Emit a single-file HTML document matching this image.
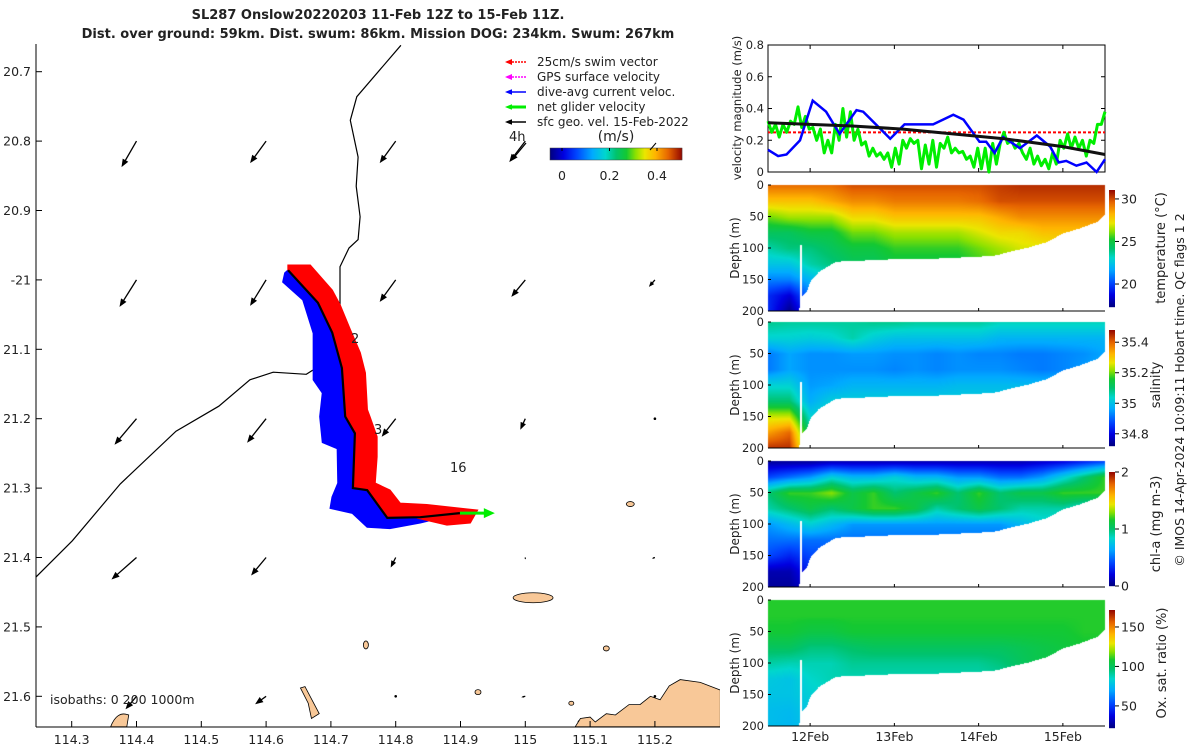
<!DOCTYPE html>
<html><head><meta charset="utf-8">
<style>
html,body{margin:0;padding:0;background:#fff;}
#wrap{position:relative;width:1200px;height:750px;overflow:hidden;font-family:"DejaVu Sans","Liberation Sans",sans-serif;}
canvas,svg{position:absolute;left:0;top:0;}
text{font-family:"DejaVu Sans","Liberation Sans",sans-serif;fill:#222;}
</style></head>
<body>
<div id="wrap">
<canvas id="cv" width="1200" height="750"></canvas>
<svg id="sv" width="1200" height="750" xmlns="http://www.w3.org/2000/svg">
  <text x="378" y="19" text-anchor="middle" font-size="13" font-weight="bold">SL287 Onslow20220203 11-Feb 12Z to 15-Feb 11Z.</text>
  <text x="378" y="38" text-anchor="middle" font-size="13" font-weight="bold">Dist. over ground: 59km. Dist. swum: 86km. Mission DOG: 234km. Swum: 267km</text>
  <g id="map"></g>
  <g id="right"></g>
</svg>
</div>
<script>
// ---------- DATA: velocity panel ----------
const blueT=[11.5,11.62,11.72,11.88,12.03,12.19,12.35,12.55,12.63,12.95,13.12,13.46,13.7,13.82,14.01,14.09,14.19,14.29,14.49,14.69,14.85,14.95,15.04,15.16,15.28,15.4,15.5];
const blueV=[0.14,0.10,0.11,0.20,0.45,0.38,0.24,0.39,0.38,0.21,0.30,0.30,0.36,0.33,0.19,0.19,0.12,0.22,0.15,0.23,0.16,0.06,0.07,0.04,0.06,0.0,0.08];
const greenV=[0.32,0.25,0.3,0.22,0.3,0.25,0.32,0.3,0.41,0.28,0.35,0.27,0.28,0.2,0.27,0.12,0.2,0.12,0.3,0.2,0.4,0.22,0.38,0.2,0.27,0.17,0.19,0.1,0.15,0.1,0.12,0.08,0.12,0.03,0.15,0.05,0.2,0.15,0.21,0.18,0.2,0.02,0.17,0.05,0.2,0.03,0.18,0.15,0.22,0.12,0.15,0.12,0.13,0.08,0.1,0.03,0.15,0.02,0.15,0,0.18,0.05,0.18,0.25,0.18,0.2,0.15,0.18,0.12,0.08,0.15,0.05,0.1,0.04,0.08,0.02,0.12,0.05,0.2,0.15,0.24,0.15,0.22,0.15,0.2,0.1,0.2,0.18,0.3,0.3,0.38];
const blackT=[11.5,12.5,13.1,14.3,15.0,15.5];
const blackV=[0.31,0.29,0.27,0.21,0.16,0.11];
const swimV=0.25;
const velTicks=[0,0.2,0.4,0.6,0.8];
const dateTicks=[12,13,14,15];
const dateLabels=["12Feb","13Feb","14Feb","15Feb"];
const depthTicks=[0,50,100,150,200];
// ---------- DATA: sections (columns at 11.5..15.5 step 0.25; rows depth 0..200 step 25) ----------
const tempGrid=[
[29.5,29.5,29.5,29.5,30,30,30,30,30,30,30,30.3,30.5,30.5,30.5,30.5,30.5],
[28,28,28,28.5,29,29,29.3,29.3,29.3,29.3,29.5,30,30,30,30,30,30],
[26,26.5,26.5,26.5,27.5,27.5,28,28,28,28,28,28.5,29,29,29,29,29],
[24.5,24.5,25,25,26,26,26.5,26.5,26.5,26.5,27,27.5,27.5,28,28,28,28],
[23.5,24,24,24.5,25,25,25.5,25.5,25.5,25.5,26,26.5,27,27,27.5,27.5,27.5],
[22.5,22.5,23.5,24,24.5,24.5,25,25,25,25,25.5,26,26.5,26.5,27,27,27],
[21,21,22,23,24,24,24.5,24.5,24.5,24.5,25,25.5,26,26,26.5,26.5,26.5],
[19.5,18.5,21,22,23,23,24,24,24,24,24.5,25,25.5,25.5,26,26,26],
[19.5,17.5,20,21,22,22,23,23,23,23,24,24.5,25,25,25.5,25.5,25.5]];
const salGrid=[
[35.08,35.07,35.07,35.07,35.07,35.08,35.08,35.07,35.07,35.07,35.07,35.05,35.05,35.05,35.05,35.05,35.05],
[35.03,35.03,35.02,35.03,35.06,35.02,35.0,35.0,35.0,35.0,35.0,34.98,34.98,34.98,34.98,34.98,34.98],
[34.92,34.96,34.94,34.94,34.95,34.95,34.94,34.94,34.93,34.94,34.93,34.93,34.92,34.92,34.93,34.94,34.96],
[34.92,34.96,34.94,34.94,34.94,34.94,34.93,34.94,34.93,34.94,34.94,34.94,34.93,34.92,34.93,34.95,34.97],
[35.03,35.03,34.95,34.96,34.98,34.98,34.98,34.98,34.98,34.99,34.99,34.99,34.99,34.99,34.99,34.99,34.99],
[35.1,35.1,34.97,35.02,35.02,35.02,35.02,35.02,35.02,35.02,35.02,35.02,35.02,35.02,35.02,35.02,35.02],
[35.25,35.25,35.03,35.05,35.05,35.05,35.05,35.05,35.05,35.05,35.05,35.05,35.05,35.05,35.05,35.05,35.05],
[35.35,35.4,35.08,35.08,35.08,35.08,35.08,35.08,35.08,35.08,35.08,35.08,35.08,35.08,35.08,35.08,35.08],
[35.45,35.45,35.15,35.1,35.1,35.1,35.1,35.1,35.1,35.1,35.1,35.1,35.1,35.1,35.1,35.1,35.1]];
const chlGrid=[
[0.05,0.05,0.05,0.1,0.1,0.1,0.1,0.1,0.1,0.1,0.1,0.1,0.1,0.15,0.2,0.3,0.4],
[0.4,0.5,0.6,0.8,0.7,0.7,0.8,0.7,0.7,0.6,0.6,0.5,0.5,0.6,0.8,1.0,1.2],
[1.0,1.2,1.2,1.3,1.1,1.2,1.0,1.1,1.2,1.0,1.2,1.0,1.1,1.1,1.2,1.2,1.2],
[0.9,1.0,1.1,1.0,1.1,1.2,1.2,1.1,0.9,1.0,1.1,1.0,0.9,0.9,0.9,0.8,0.8],
[0.6,0.7,0.8,0.7,0.6,0.6,0.6,0.6,0.6,0.6,0.6,0.6,0.7,0.8,0.8,0.8,0.8],
[0.5,0.5,0.5,0.5,0.5,0.5,0.5,0.5,0.5,0.5,0.5,0.5,0.5,0.5,0.5,0.5,0.5],
[0.4,0.3,0.4,0.4,0.4,0.4,0.4,0.4,0.4,0.4,0.4,0.4,0.4,0.4,0.4,0.4,0.4],
[0.1,0.1,0.3,0.3,0.3,0.3,0.3,0.3,0.3,0.3,0.3,0.3,0.3,0.3,0.3,0.3,0.3],
[0.05,0.05,0.2,0.2,0.2,0.2,0.2,0.2,0.2,0.2,0.2,0.2,0.2,0.2,0.2,0.2,0.2]];
const oxGrid=[
[110,110,110,110,110,110,110,110,110,110,110,110,110,110,110,110,110],
[110,110,110,110,110,110,110,110,110,110,110,110,110,110,110,110,110],
[108,108,105,105,108,108,108,108,108,108,108,108,108,108,108,110,110],
[100,100,95,95,98,100,100,100,100,100,100,100,102,104,106,108,108],
[90,88,88,88,92,92,92,92,92,92,92,95,100,104,106,108,108],
[80,78,85,88,88,88,88,88,88,88,88,90,95,100,104,106,106],
[78,78,82,85,85,85,85,85,85,85,85,88,92,96,100,104,104],
[76,75,80,82,82,82,82,82,82,82,82,85,90,94,98,102,102],
[76,74,78,80,80,80,80,80,80,80,80,82,88,92,96,100,100]];
const bottomT=[11.5,11.86,11.9,11.95,12.0,12.1,12.3,13,13.5,14,14.2,14.4,14.6,14.8,15,15.2,15.4,15.5];
const bottomD=[200,200,175,170,152,137,121,117,116,113,111,104,98,90,76,68,58,45];
const tempTicks=[20,25,30], salTicks=[34.8,35,35.2,35.4], chlTicks=[0,1,2], oxTicks=[50,100,150];
// ---------- DATA: map ----------
const coastA_lon=[114.808,114.740,114.730,114.742,114.739,114.745,114.742,114.728,114.714,114.714];
const coastA_lat=[20.662,20.736,20.770,20.823,20.865,20.909,20.942,20.954,20.981,21.130];
const coastB_lon=[114.245,114.301,114.375,114.461,114.527,114.575,114.611,114.662,114.672];
const coastB_lat=[21.428,21.376,21.294,21.218,21.182,21.144,21.133,21.136,21.130];
const track_lon=[114.634,114.680,114.702,114.717,114.722,114.737,114.734,114.756,114.787,114.838,114.899];
const track_lat=[20.986,21.033,21.076,21.127,21.197,21.221,21.300,21.303,21.343,21.342,21.336];
const redEdge_lon=[114.634,114.668,114.702,114.714,114.730,114.745,114.753,114.756,114.760,114.771,114.771,114.768,114.791,114.807,114.848,114.926,114.915,114.879,114.833];
const redEdge_lat=[20.979,20.979,21.015,21.036,21.072,21.105,21.134,21.187,21.197,21.226,21.255,21.293,21.303,21.322,21.324,21.332,21.350,21.353,21.343];
const blueEdge_lon=[114.629,114.626,114.657,114.673,114.673,114.687,114.683,114.687,114.710,114.711,114.702,114.699,114.733,114.756,114.791,114.838];
const blueEdge_lat=[20.990,21.003,21.029,21.077,21.144,21.163,21.197,21.234,21.243,21.293,21.313,21.329,21.336,21.356,21.358,21.350];
const netEnd=[114.953,21.336];
const gridLon=[114.4,114.6,114.8,115.0,115.2];
const gridLat=[20.8,21.0,21.2,21.4,21.6];
const curU=[[-0.15,-0.16,-0.16,-0.16,0],[-0.17,-0.16,-0.16,-0.14,-0.06],[-0.22,-0.19,-0.14,-0.05,-0.01],[-0.25,-0.15,-0.05,0,-0.03],[-0.11,-0.11,0,-0.04,0]];
const curV=[[0.26,0.22,0.22,0.21,0],[0.27,0.26,0.22,0.17,0.07],[0.26,0.24,0.18,0.11,0.01],[0.22,0.18,0.10,0.02,0.01],[0.13,0.08,0.01,0.01,0.01]];
const islands=[[115.012,21.458,20,5],[115.162,21.323,4,2.5],[115.125,21.531,3,2.5],[114.927,21.594,3,2.5],[115.071,21.610,2.5,2],[115.086,21.637,3,2],[114.754,21.526,2.5,4]];
const mainland_lon=[115.077,115.085,115.100,115.108,115.125,115.139,115.160,115.177,115.193,115.208,115.222,115.239,115.270,115.301,115.301];
const mainland_lat=[21.644,21.632,21.630,21.637,21.625,21.627,21.612,21.612,21.600,21.605,21.585,21.576,21.580,21.591,21.644];
const latLabels=["20.7","20.8","20.9","-21","21.1","21.2","21.3","21.4","21.5","21.6"];
const latTicks=[20.7,20.8,20.9,21.0,21.1,21.2,21.3,21.4,21.5,21.6];
const lonTicks=[114.3,114.4,114.5,114.6,114.7,114.8,114.9,115.0,115.1,115.2];
const lonLabels=["114.3","114.4","114.5","114.6","114.7","114.8","114.9","115","115.1","115.2"];
const legendItems=["25cm/s swim vector","GPS surface velocity","dive-avg current veloc.","net glider velocity","sfc geo. vel. 15-Feb-2022"];
const legendColors=["#ff0000","#ff00ff","#0000ff","#00ee00","#000000"];
const speedTicks=[0,0.2,0.4];

// ---------- helpers ----------
const NS="http://www.w3.org/2000/svg";
function mk(tag,attrs,parent){const e=document.createElementNS(NS,tag);for(const k in attrs)e.setAttribute(k,attrs[k]);parent.appendChild(e);return e;}
const stops=[[0,[0,0,130]],[0.1,[0,0,225]],[0.2,[0,70,255]],[0.32,[0,170,255]],[0.42,[0,215,205]],[0.5,[0,195,110]],[0.58,[20,200,50]],[0.65,[140,225,0]],[0.72,[235,230,0]],[0.8,[255,180,0]],[0.9,[230,100,0]],[1,[150,10,0]]];
function cmap(f){f=Math.max(0,Math.min(1,f));for(let i=1;i<stops.length;i++){if(f<=stops[i][0]){const a=stops[i-1],b=stops[i];const r=(f-a[0])/(b[0]-a[0]);return [0,1,2].map(k=>Math.round(a[1][k]+(b[1][k]-a[1][k])*r));}}return stops[stops.length-1][1];}
function rgb(c){return "rgb("+c.join(",")+")";}
function interp(xs,ys,x){if(x<=xs[0])return ys[0];for(let i=1;i<xs.length;i++){if(x<=xs[i]){const r=(x-xs[i-1])/(xs[i]-xs[i-1]);return ys[i-1]+(ys[i]-ys[i-1])*r;}}return ys[ys.length-1];}

// ---------- MAP ----------
const map=document.getElementById('map');
const MX=lon=>71.7+(lon-114.3)*648;
const MY=lat=>71.7+(lat-20.7)*694;
function pts(lons,lats){return lons.map((l,i)=>MX(l).toFixed(1)+","+MY(lats[i]).toFixed(1)).join(" ");}
const cl=mk('clipPath',{id:'mapclip'},map);mk('rect',{x:36,y:44,width:684,height:683},cl);
const mg=mk('g',{'clip-path':'url(#mapclip)'},map);
let e=mk('polyline',{points:pts(coastA_lon,coastA_lat),fill:'none',stroke:'#000','stroke-width':1.2},mg);


e=mk('polyline',{points:pts(coastB_lon,coastB_lat),fill:'none',stroke:'#000','stroke-width':1.2},mg);


const trRevLon=track_lon.slice().reverse(), trRevLat=track_lat.slice().reverse();
e=mk('polygon',{points:pts(blueEdge_lon.concat(trRevLon),blueEdge_lat.concat(trRevLat)),fill:'#0000ff',stroke:'#0000ff','stroke-width':1.5},mg);


e=mk('polygon',{points:pts(redEdge_lon.concat(trRevLon),redEdge_lat.concat(trRevLat)),fill:'#ff0000',stroke:'#ff0000','stroke-width':1.5},mg);


const tl=track_lon.length-1;
e=mk('line',{x1:MX(track_lon[tl]),y1:MY(track_lat[tl]),x2:MX(netEnd[0])-8,y2:MY(netEnd[1]),stroke:'#00ee00','stroke-width':3},mg);


mk('polygon',{points:(MX(netEnd[0]))+","+MY(netEnd[1])+" "+(MX(netEnd[0])-11)+","+(MY(netEnd[1])-5)+" "+(MX(netEnd[0])-11)+","+(MY(netEnd[1])+5),fill:'#00ee00'},mg);
e=mk('polyline',{points:pts(track_lon,track_lat),fill:'none',stroke:'#000','stroke-width':2.2},mg);


islands.forEach(s=>{const el=mk('ellipse',{cx:MX(s[0]),cy:MY(s[1]),rx:s[2],ry:s[3],fill:'#f8c898',stroke:'#000','stroke-width':0.8},mg);

});
e=mk('polygon',{points:pts(mainland_lon,mainland_lat),fill:'#f8c898',stroke:'#000','stroke-width':0.8},mg);


e=mk('path',{d:"M"+MX(114.36)+","+MY(21.644)+" Q"+MX(114.37)+","+MY(21.62)+" "+MX(114.388)+","+MY(21.627)+" L"+MX(114.385)+","+MY(21.644)+"Z",fill:'#f8c898',stroke:'#000','stroke-width':0.8},mg);


e=mk('path',{d:"M"+MX(114.653)+","+MY(21.588)+" L"+MX(114.66)+","+MY(21.586)+" L"+MX(114.682)+","+MY(21.625)+" L"+MX(114.67)+","+MY(21.632)+" L"+MX(114.665)+","+MY(21.61)+"Z",fill:'#f8c898',stroke:'#000','stroke-width':0.8},mg);


const VS=100;
function arrow(p,x1,y1,x2,y2,col,w,hs){
  const dx=x2-x1,dy=y2-y1,L=Math.hypot(dx,dy);
  if(L<2){mk('circle',{cx:x1,cy:y1,r:1.3,fill:col},p);return;}
  const ux=dx/L,uy=dy/L;const h=Math.min(hs,L*0.6);
  mk('line',{x1:x1,y1:y1,x2:x2-ux*h*0.7,y2:y2-uy*h*0.7,stroke:col,'stroke-width':w},p);
  mk('polygon',{points:x2+","+y2+" "+(x2-ux*h-uy*h*0.4)+","+(y2-uy*h+ux*h*0.4)+" "+(x2-ux*h+uy*h*0.4)+","+(y2-uy*h-ux*h*0.4),fill:col},p);
}
gridLat.forEach((la,i)=>gridLon.forEach((lo,j)=>{
  const u=curU[i][j],v=curV[i][j];if(u===0&&v===0)return;
  const g=mk('g',{},mg);
  
  
  const x=MX(lo),y=MY(la);arrow(g,x,y,x+u*VS,y+v*VS,'#000',1.3,8);
}));
e=mk('line',{x1:36,y1:44,x2:36,y2:727,stroke:'#000','stroke-width':1},map);


e=mk('line',{x1:36,y1:727,x2:720,y2:727,stroke:'#000','stroke-width':1},map);


latTicks.forEach((la,i)=>{const y=MY(la);mk('line',{x1:36,y1:y,x2:42,y2:y,stroke:'#000'},map);
  const t=mk('text',{x:31,y:y+4.5,'text-anchor':'end','font-size':12.5},map);t.textContent=latLabels[i];
  
  });
lonTicks.forEach((lo,i)=>{const x=MX(lo);mk('line',{x1:x,y1:727,x2:x,y2:721,stroke:'#000'},map);
  const t=mk('text',{x:x,y:744,'text-anchor':'middle','font-size':12.5},map);t.textContent=lonLabels[i];
  
  });
[["2",351,343],["3",374,434],["16",450,472],["4h",509,141]].forEach(a=>{const t=mk('text',{x:a[1],y:a[2],'font-size':13},map);t.textContent=a[0];

});
e=mk('text',{x:50,y:704,'font-size':12.5},map);e.textContent="isobaths: 0   200  1000m";


arrow(map,526,143,511,161,'#000',1.3,7);
legendItems.forEach((s,i)=>{const y=62+i*15;const g=mk('g',{},map);
  
  
  const w=i===3?3:1.5;
  if(i<2){mk('line',{x1:526,y1:y,x2:510,y2:y,stroke:legendColors[i],'stroke-width':1.5,'stroke-dasharray':'2,1'},g);mk('polygon',{points:"505,"+y+" 512,"+(y-3)+" 512,"+(y+3),fill:legendColors[i]},g);}
  else arrow(g,526,y,505,y,legendColors[i],w,7);
  const t=mk('text',{x:537,y:y+4,'font-size':12},g);t.textContent=s;});
const sg=mk('g',{},map);


for(let i=0;i<132;i++){mk('rect',{x:550+i,y:148,width:1.2,height:12,fill:rgb(cmap(i/131))},sg);}
mk('rect',{x:550,y:148,width:132,height:12,fill:'none',stroke:'#444','stroke-width':0.5},sg);
const SX=v=>562+v*237.5;
speedTicks.forEach(v=>{mk('line',{x1:SX(v),y1:148,x2:SX(v),y2:151,stroke:'#000'},sg);const t=mk('text',{x:SX(v),y:180,'text-anchor':'middle','font-size':12.5},sg);t.textContent=String(v);});
e=mk('text',{x:616,y:141,'text-anchor':'middle','font-size':14},sg);e.textContent="(m/s)";
mk('line',{x1:650,y1:150,x2:656,y2:143,stroke:'#000'},sg);

// ---------- RIGHT PANELS ----------
const R=document.getElementById('right');
const X0=768,X1=1105;
const XT=t=>X0+(t-11.5)*(X1-X0)/4;
const VY=v=>172-v*158.75;
const vp=mk('g',{},R);


mk('rect',{x:X0,y:45,width:X1-X0,height:127,fill:'#fff',stroke:'#000','stroke-width':1},vp);
velTicks.forEach(v=>{const y=VY(v);mk('line',{x1:X0,y1:y,x2:X0+4,y2:y,stroke:'#000'},vp);mk('line',{x1:X1,y1:y,x2:X1-4,y2:y,stroke:'#000'},vp);
  const t=mk('text',{x:764,y:y+4,'text-anchor':'end','font-size':11.5},vp);t.textContent=String(v);});
dateTicks.forEach(d=>{mk('line',{x1:XT(d),y1:172,x2:XT(d),y2:168,stroke:'#000'},vp);mk('line',{x1:XT(d),y1:45,x2:XT(d),y2:49,stroke:'#000'},vp);});
const vyl=mk('text',{x:0,y:0,'text-anchor':'middle','font-size':11.5,transform:'translate(741,108) rotate(-90)'},vp);vyl.textContent="velocity magnitude (m/s)";
e=mk('line',{x1:XT(11.5),y1:VY(swimV),x2:XT(15.5),y2:VY(swimV),stroke:'#ff0000','stroke-width':2,'stroke-dasharray':'3,2'},vp);


e=mk('polyline',{points:greenV.map((v,i)=>XT(11.5+4*i/(greenV.length-1)).toFixed(1)+","+VY(v).toFixed(1)).join(" "),fill:'none',stroke:'#00ee00','stroke-width':3,'stroke-linejoin':'round'},vp);


e=mk('polyline',{points:blueT.map((t,i)=>XT(t).toFixed(1)+","+VY(blueV[i]).toFixed(1)).join(" "),fill:'none',stroke:'#0000ff','stroke-width':2.5},vp);


e=mk('polyline',{points:blackT.map((t,i)=>XT(t).toFixed(1)+","+VY(blackV[i]).toFixed(1)).join(" "),fill:'none',stroke:'#111','stroke-width':3},vp);



const panels=[
 {name:'temperature',top:185,grid:tempGrid,lo:17.3,hi:31.05,ticks:tempTicks,cbTop:190,cbBot:307,label:"temperature (°C)",lx:1165},
 {name:'salinity',top:322,grid:salGrid,lo:34.72,hi:35.48,ticks:salTicks,cbTop:330,cbBot:446,label:"salinity",lx:1160},
 {name:'chlorophyll',top:461,grid:chlGrid,lo:0,hi:2,ticks:chlTicks,cbTop:472,cbBot:586,label:"chl-a (mg m-3)",lx:1160},
 {name:'oxygen',top:600,grid:oxGrid,lo:22,hi:171.5,ticks:oxTicks,cbTop:610,cbBot:728,label:"Ox. sat. ratio (%)",lx:1166}];
const PH=126;
const ctx=document.getElementById('cv').getContext('2d');
panels.forEach(p=>{
  const img=ctx.createImageData(X1-X0,PH);
  for(let px=0;px<X1-X0;px++){
    const t=11.5+4*px/(X1-X0);
    const bd=interp(bottomT,bottomD,t);
    const fi=Math.min(15.999,(t-11.5)/0.25),i0=Math.floor(fi),rx=fi-i0;
    for(let py=0;py<PH;py++){
      const d=py*200/PH;
      if(d>bd)continue;
      if(t>11.87&&t<11.895&&d>95)continue;
      const fj=Math.min(7.999,d/25),j0=Math.floor(fj),ry=fj-j0;
      const g=p.grid;
      const v=(g[j0][i0]*(1-rx)+g[j0][i0+1]*rx)*(1-ry)+(g[j0+1][i0]*(1-rx)+g[j0+1][i0+1]*rx)*ry;
      const c=cmap((v-p.lo)/(p.hi-p.lo));
      const k=(py*(X1-X0)+px)*4;img.data[k]=c[0];img.data[k+1]=c[1];img.data[k+2]=c[2];img.data[k+3]=255;
    }
  }
  ctx.putImageData(img,X0,p.top);
  const g=mk('g',{},R);
  
  
  const DY=d=>p.top+d*PH/200;
  mk('line',{x1:X0,y1:p.top+PH,x2:X1,y2:p.top+PH,stroke:'#000'},g);
  depthTicks.forEach(d=>{mk('line',{x1:X0,y1:DY(d),x2:X0+3,y2:DY(d),stroke:'#000'},g);const t=mk('text',{x:764,y:DY(d)+4,'text-anchor':'end','font-size':11.5},g);t.textContent=String(d);});
  dateTicks.forEach(d=>{mk('line',{x1:XT(d),y1:p.top+PH,x2:XT(d),y2:p.top+PH-3,stroke:'#000'},g);});
  const yl=mk('text',{x:0,y:0,'text-anchor':'middle','font-size':12,transform:'translate(739,'+(p.top+63)+') rotate(-90)'},g);yl.textContent="Depth (m)";
  const cb=mk('g',{},R);
  
  
  const H=p.cbBot-p.cbTop;
  for(let i=0;i<H;i++){mk('rect',{x:1109,y:p.cbBot-i-1,width:6,height:1.2,fill:rgb(cmap(i/(H-1)))},cb);}
  const CY=v=>p.cbBot-(v-p.lo)/(p.hi-p.lo)*H;
  p.ticks.forEach(v=>{const y=CY(v);mk('line',{x1:1115,y1:y,x2:1119,y2:y,stroke:'#000'},cb);const t=mk('text',{x:1121,y:y+4.5,'font-size':12.5},cb);t.textContent=String(v);});
  const cl2=mk('text',{x:0,y:0,'text-anchor':'middle','font-size':13,transform:'translate('+p.lx+','+(p.top+63)+') rotate(-90)'},cb);cl2.textContent=p.label;
});
dateTicks.forEach((d,i)=>{const t=mk('text',{x:XT(d),y:741,'text-anchor':'middle','font-size':12.5},R);t.textContent=dateLabels[i];

});
e=mk('text',{x:0,y:0,'text-anchor':'middle','font-size':12.5,transform:'translate(1184,390) rotate(-90)'},R);
e.textContent="© IMOS 14-Apr-2024 10:09:11 Hobart time. QC flags 1  2";


</script>
</body></html>
